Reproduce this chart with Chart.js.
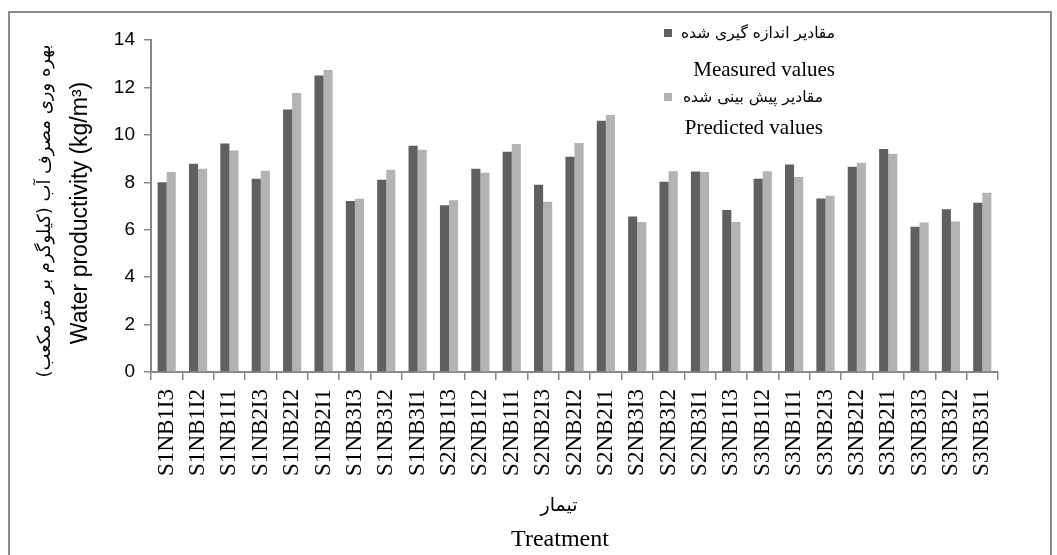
<!DOCTYPE html>
<html>
<head>
<meta charset="utf-8">
<script src="https://cdn.jsdelivr.net/npm/chart.js@4/dist/chart.umd.min.js"></script>
<style>
  body { margin: 0; background: #fff; }
  #wrap { position: relative; width: 1057px; height: 555px; }
  #frame { position: absolute; left: 8px; top: 11px; width: 1040px; height: 560px;
           border: 2px solid #8c8c8c; border-bottom: none; }
  canvas { position: absolute; left: 0; top: 0; }
</style>
</head>
<body>
<div id="wrap">
  <div id="frame"></div>
  <canvas id="wpChart" width="1057" height="555"></canvas>
</div>
<script>
const treatments = ['S1NB1I3', 'S1NB1I2', 'S1NB1I1', 'S1NB2I3', 'S1NB2I2', 'S1NB2I1', 'S1NB3I3', 'S1NB3I2', 'S1NB3I1',
    'S2NB1I3', 'S2NB1I2', 'S2NB1I1', 'S2NB2I3', 'S2NB2I2', 'S2NB2I1', 'S2NB3I3', 'S2NB3I2', 'S2NB3I1',
    'S3NB1I3', 'S3NB1I2', 'S3NB1I1', 'S3NB2I3', 'S3NB2I2', 'S3NB2I1', 'S3NB3I3', 'S3NB3I2', 'S3NB3I1'];
const measured = [8.00, 8.78, 9.64, 8.15, 11.07, 12.50, 7.21, 8.11, 9.54,
    7.03, 8.57, 9.29, 7.90, 9.08, 10.59, 6.56, 8.02, 8.46,
    6.83, 8.15, 8.75, 7.32, 8.65, 9.40, 6.13, 6.86, 7.14];
const predicted = [8.43, 8.57, 9.34, 8.49, 11.77, 12.74, 7.31, 8.53, 9.37,
    7.24, 8.40, 9.61, 7.18, 9.66, 10.84, 6.33, 8.47, 8.43,
    6.33, 8.47, 8.22, 7.43, 8.82, 9.20, 6.30, 6.35, 7.56];
const yTicks = [0, 2, 4, 6, 8, 10, 12, 14];

const seriesNames = [
    { fa: 'مقادیر اندازه گیری شده', en: 'Measured values', color: '#606060' },
    { fa: 'مقادیر پیش بینی شده', en: 'Predicted values', color: '#b3b3b3' }
];
const yTitleFa = 'بهره وری مصرف آب (کیلوگرم بر مترمکعب)';
const yTitleEn = 'Water productivity (kg/m³)';
const xTitleFa = 'تیمار';
const xTitleEn = 'Treatment';

const axisGray = '#888888';
const serif = '"Liberation Serif", "Times New Roman", serif';
const sans = '"Liberation Sans", Arial, sans-serif';

// titles and legend are drawn by hand, the original mixes Persian and English lines
const textPlugin = {
    id: 'textPlugin',
    afterDraw(chart) {
        const ctx = chart.ctx;
        ctx.save();
        ctx.fillStyle = '#000';
        ctx.textBaseline = 'middle';

        // y axis title, two rotated lines
        ctx.save();
        ctx.translate(45, 211);
        ctx.rotate(-Math.PI / 2);
        ctx.textAlign = 'center';
        ctx.font = '18px "DejaVu Sans", sans-serif';
        ctx.fillText(yTitleFa, 0, 0);
        ctx.restore();

        ctx.save();
        ctx.translate(81, 213);
        ctx.rotate(-Math.PI / 2);
        ctx.textAlign = 'center';
        ctx.font = '23px ' + sans;
        ctx.fillText(yTitleEn, 0, 0);
        ctx.restore();

        // x axis title
        ctx.textAlign = 'center';
        ctx.font = '19px "DejaVu Sans", serif';
        ctx.fillText(xTitleFa, 559, 506);
        ctx.font = '24px ' + serif;
        ctx.fillText(xTitleEn, 560, 540);

        // legend
        const rows = [[34, 70], [98, 128]];
        seriesNames.forEach((s, i) => {
            const [yFa, yEn] = rows[i];
            const right = i === 0 ? 835 : 823;
            ctx.fillStyle = s.color;
            ctx.fillRect(664, yFa - 5, 8, 8);
            ctx.fillStyle = '#000';
            ctx.textAlign = 'right';
            ctx.font = '15.5px "DejaVu Sans", serif';
            ctx.fillText(s.fa, right, yFa);
            ctx.font = '21px ' + serif;
            ctx.fillText(s.en, right, yEn);
        });
        ctx.restore();
    }
};

const ctx = document.getElementById('wpChart').getContext('2d');
new Chart(ctx, {
    type: 'bar',
    data: {
        labels: treatments,
        datasets: [
            { label: seriesNames[0].en, data: measured, backgroundColor: seriesNames[0].color, borderWidth: 0 },
            { label: seriesNames[1].en, data: predicted, backgroundColor: seriesNames[1].color, borderWidth: 0 }
        ]
    },
    options: {
        responsive: false,
        animation: false,
        categoryPercentage: 0.58,
        barPercentage: 1.0,
        layout: { padding: { left: 101, right: 59, top: 40, bottom: 0 } },
        plugins: { legend: { display: false }, tooltip: { enabled: false } },
        scales: {
            x: {
                grid: { display: true, drawOnChartArea: false, offset: true, tickLength: 8, color: axisGray, lineWidth: 1.5 },
                border: { color: axisGray, width: 2 },
                ticks: {
                    autoSkip: false, minRotation: 90, maxRotation: 90, padding: 9,
                    color: '#000', font: { family: serif, size: 23 }
                },
                afterFit(scale) { scale.height = 183; }
            },
            y: {
                min: 0,
                max: yTicks[yTicks.length - 1],
                afterBuildTicks(scale) { scale.ticks = yTicks.map(v => ({ value: v })); },
                grid: { display: true, drawOnChartArea: false, tickLength: 7, color: axisGray, lineWidth: 1.5 },
                border: { color: axisGray, width: 2 },
                ticks: { padding: 9, color: '#000', font: { family: sans, size: 19 } },
                afterFit(scale) { scale.width = 50; }
            }
        }
    },
    plugins: [textPlugin]
});
</script>
</body>
</html>
